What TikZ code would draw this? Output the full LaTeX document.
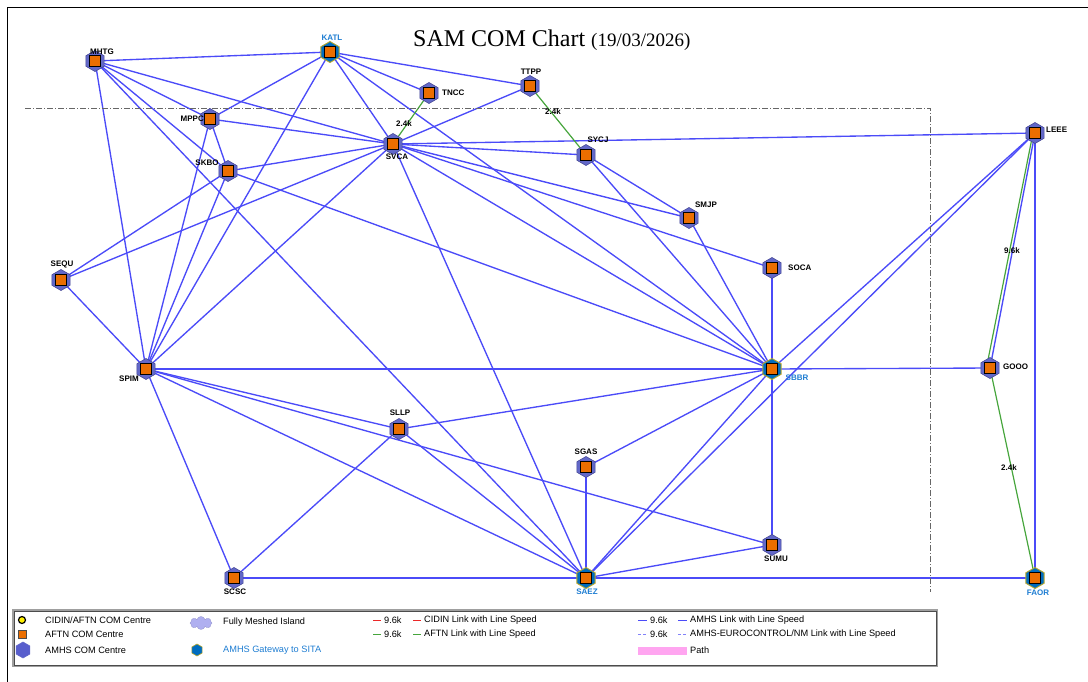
\documentclass[tikz,border=0pt]{standalone}
\usepackage{fontspec}
\setmainfont{Liberation Serif}
\setsansfont{Liberation Sans}
\usetikzlibrary{shapes.geometric,shapes.symbols,backgrounds}
\definecolor{hexblue}{RGB}{98,104,200}
\definecolor{hexedge}{RGB}{70,72,150}
\definecolor{gwblue}{RGB}{0,108,190}
\definecolor{gwedge}{RGB}{185,165,40}
\definecolor{aftn}{RGB}{235,110,0}
\definecolor{linkblue}{RGB}{75,75,248}
\definecolor{linkgreen}{RGB}{70,165,60}
\definecolor{linkred}{RGB}{235,40,40}
\definecolor{gwtext}{RGB}{30,125,210}
\definecolor{lav}{RGB}{175,175,240}
\definecolor{pathpink}{RGB}{255,165,240}
\definecolor{cidyel}{RGB}{255,240,0}
\tikzset{
  hexn/.style={regular polygon, regular polygon sides=6, shape border rotate=90, minimum size=21pt, inner sep=0pt, fill=hexblue, draw=hexedge, line width=0.6pt},
  gwn/.style={hexn, fill=gwblue, draw=gwedge, line width=0.9pt},
  sqn/.style={rectangle, minimum size=11pt, inner sep=0pt, fill=aftn, draw=black, line width=0.8pt},
  nlab/.style={font=\sffamily\bfseries\fontsize{8}{9}\selectfont, inner sep=0pt},
  glab/.style={nlab, text=gwtext},
  elab/.style={font=\sffamily\bfseries\fontsize{8}{9}\selectfont, inner sep=0pt},
  blink/.style={draw=linkblue, line width=1.35pt},
  glink/.style={draw=linkgreen, line width=1.2pt},
  legt/.style={font=\sffamily\fontsize{9.2}{10}\selectfont, inner sep=0pt, anchor=west},
}
\newcommand{\amhsnode}[3]{\node[hexn] (#1) at (#2,#3) {}; \node[sqn] (#1q) at (#2,#3) {};}
\newcommand{\gatenode}[3]{\node[gwn] (#1) at (#2,#3) {}; \node[sqn] (#1q) at (#2,#3) {};}
\begin{document}
\begin{tikzpicture}[x=1pt,y=-1pt]
\useasboundingbox (0,0) rectangle (1088,681);
% frame
\draw[black, line width=1pt] (7.5,690) -- (7.5,7.5) -- (1095,7.5);
% island boundary
\draw[gray!80!black, line width=0.7pt, dash pattern=on 6pt off 2pt on 1pt off 2pt] (25,108) -- (930,108) -- (930,592);
% title
\node[anchor=base west, inner sep=0pt] (title) at (413,46) {\fontsize{24}{26}\selectfont SAM COM Chart \fontsize{19}{20}\selectfont(19/03/2026)};

% nodes
\amhsnode{MHTG}{95}{61}
\gatenode{KATL}{330}{52}
\amhsnode{TNCC}{429}{93}
\amhsnode{TTPP}{530}{86}
\amhsnode{MPPC}{210}{119}
\amhsnode{SVCA}{393}{144}
\amhsnode{SYCJ}{586}{155}
\amhsnode{SKBO}{228}{171}
\amhsnode{LEEE}{1035}{133}
\amhsnode{SMJP}{689}{218}
\amhsnode{SEQU}{61}{280}
\amhsnode{SOCA}{772}{268}
\amhsnode{SPIM}{146}{369}
\gatenode{SBBR}{772}{369}
\amhsnode{GOOO}{990}{368}
\amhsnode{SLLP}{399}{429}
\amhsnode{SGAS}{586}{467}
\amhsnode{SUMU}{772}{545}
\amhsnode{SCSC}{234}{578}
\gatenode{SAEZ}{586}{578}
\gatenode{FAOR}{1035}{578}

% labels
\node[nlab] (lMHTG) at (102,52) {MHTG};
\node[glab] (lKATL) at (332,38) {KATL};
\node[nlab, anchor=west] (lTNCC) at (442,93) {TNCC};
\node[nlab] (lTTPP) at (531,72) {TTPP};
\node[nlab, anchor=east] (lMPPC) at (204,119) {MPPC};
\node[nlab] (lSVCA) at (397,157) {SVCA};
\node[nlab] (lSYCJ) at (598,140) {SYCJ};
\node[nlab] (lSKBO) at (207,163) {SKBO};
\node[nlab, anchor=west] (lLEEE) at (1046,130) {LEEE};
\node[nlab] (lSMJP) at (706,205) {SMJP};
\node[nlab] (lSEQU) at (62,264) {SEQU};
\node[nlab, anchor=west] (lSOCA) at (788,268) {SOCA};
\node[nlab] (lSPIM) at (129,379) {SPIM};
\node[glab] (lSBBR) at (797,378) {SBBR};
\node[nlab, anchor=west] (lGOOO) at (1003,367) {GOOO};
\node[nlab] (lSLLP) at (400,413) {SLLP};
\node[nlab] (lSGAS) at (586,452) {SGAS};
\node[nlab] (lSUMU) at (776,559) {SUMU};
\node[nlab] (lSCSC) at (235,592) {SCSC};
\node[glab] (lSAEZ) at (587,592) {SAEZ};
\node[glab] (lFAOR) at (1038,593) {FAOR};

% edge labels
\node[elab] (e1) at (404,124) {2.4k};
\node[elab] (e2) at (553,112) {2.4k};
\node[elab] (e3) at (1012,251) {9.6k};
\node[elab] (e4) at (1009,468) {2.4k};

\begin{scope}[on background layer]
\foreach \a/\b in {MHTG/KATL, MHTG/MPPC, MHTG/SVCA, MHTG/SKBO, MHTG/SPIM, MHTG/SAEZ,
  KATL/TTPP, KATL/TNCC, KATL/SVCA, KATL/SBBR, KATL/MPPC, KATL/SPIM,
  TTPP/SVCA, MPPC/SVCA, MPPC/SKBO, MPPC/SPIM,
  SKBO/SVCA, SKBO/SEQU, SKBO/SPIM, SKBO/SBBR,
  SVCA/SEQU, SVCA/SPIM, SVCA/LEEE, SVCA/SYCJ, SVCA/SMJP, SVCA/SOCA, SVCA/SBBR, SVCA/SAEZ,
  SYCJ/SMJP, SYCJ/SBBR, SMJP/SBBR, SOCA/SBBR, SEQU/SPIM,
  SPIM/SBBR, SPIM/SLLP, SPIM/SUMU, SPIM/SAEZ, SPIM/SCSC,
  SBBR/GOOO, SBBR/LEEE, SBBR/SAEZ, SBBR/SGAS, SBBR/SLLP, SBBR/SUMU,
  SLLP/SCSC, SLLP/SAEZ, SGAS/SAEZ, SUMU/SAEZ, SCSC/SAEZ,
  SAEZ/FAOR, SAEZ/LEEE, LEEE/GOOO, LEEE/FAOR}
  \draw[blink] (\a.center) -- (\b.center);
\draw[glink] (SVCA.center) -- (TNCC.center);
\draw[glink] (TTPP.center) -- (SYCJ.center);
\draw[glink] ([xshift=-2pt]LEEE.center) -- ([xshift=-4pt,yshift=-2pt]GOOO.center);
\draw[glink] (GOOO.center) -- (FAOR.center);
\end{scope}

% legend
\draw[gray!75, line width=1.3pt] (13,610) rectangle (937,666);
\draw[black!70, line width=0.4pt] (14,611) rectangle (936,665);
\node[circle, fill=cidyel, draw=black, line width=1.2pt, minimum size=7pt, inner sep=0pt] (lg1) at (22,620) {};
\node[rectangle, fill=aftn, draw=black!70, line width=0.5pt, minimum size=7.5pt, inner sep=0pt] (lg2) at (22,634) {};
\node[hexn, minimum size=16pt, fill=hexblue!90!blue, draw=hexblue] (lg3) at (23,650) {};
\node[legt] (lt1) at (45,620) {CIDIN/AFTN COM Centre};
\node[legt] (lt2) at (45,634) {AFTN COM Centre};
\node[legt] (lt3) at (45,650) {AMHS COM Centre};
\node[cloud, cloud puffs=8, aspect=1.7, fill=lav, draw=lav!85!black, line width=0.3pt, minimum width=22pt, minimum height=13pt, inner sep=0pt] (lgc) at (201,623) {};
\node[legt] (lt4) at (223,622) {Fully Meshed Island};
\node[hexn, minimum size=12pt, fill=gwblue, draw=gwedge, line width=0.6pt] (lg4) at (197,650) {};
\node[legt, text=gwtext] (lt5) at (223,650) {AMHS Gateway to SITA};
\coordinate (r1) at (373,620); \coordinate (r2) at (381,620);
\draw[linkred, line width=0.8pt] (r1) -- (r2);
\node[legt] (lt6) at (384,620) {9.6k};
\coordinate (r3) at (413,620); \coordinate (r4) at (421,620);
\draw[linkred, line width=0.8pt] (r3) -- (r4);
\node[legt] (lt7) at (424,620) {CIDIN Link with Line Speed};
\coordinate (g1) at (373,634); \coordinate (g2) at (381,634);
\draw[linkgreen, line width=0.8pt] (g1) -- (g2);
\node[legt] (lt8) at (384,634) {9.6k};
\coordinate (g3) at (413,634); \coordinate (g4) at (421,634);
\draw[linkgreen, line width=0.8pt] (g3) -- (g4);
\node[legt] (lt9) at (424,634) {AFTN Link with Line Speed};
\coordinate (b1) at (638,620); \coordinate (b2) at (647,620);
\draw[linkblue, line width=0.9pt] (b1) -- (b2);
\node[legt] (lt10) at (650,620) {9.6k};
\coordinate (b3) at (678,620); \coordinate (b4) at (687,620);
\draw[linkblue, line width=0.9pt] (b3) -- (b4);
\node[legt] (lt11) at (690,620) {AMHS Link with Line Speed};
\coordinate (d1) at (638,634); \coordinate (d2) at (647,634);
\draw[linkblue!70, line width=0.9pt, dash pattern=on 3pt off 2pt] (d1) -- (d2);
\node[legt] (lt12) at (650,634) {9.6k};
\coordinate (d3) at (678,634); \coordinate (d4) at (687,634);
\draw[linkblue!70, line width=0.9pt, dash pattern=on 3pt off 2pt] (d3) -- (d4);
\node[legt] (lt13) at (690,634) {AMHS-EUROCONTROL/NM Link with Line Speed};
\node[rectangle, fill=pathpink, minimum width=49pt, minimum height=8pt, inner sep=0pt] (lgp) at (662.5,651) {};
\node[legt] (lt14) at (690,650) {Path};
\end{tikzpicture}
\end{document}
